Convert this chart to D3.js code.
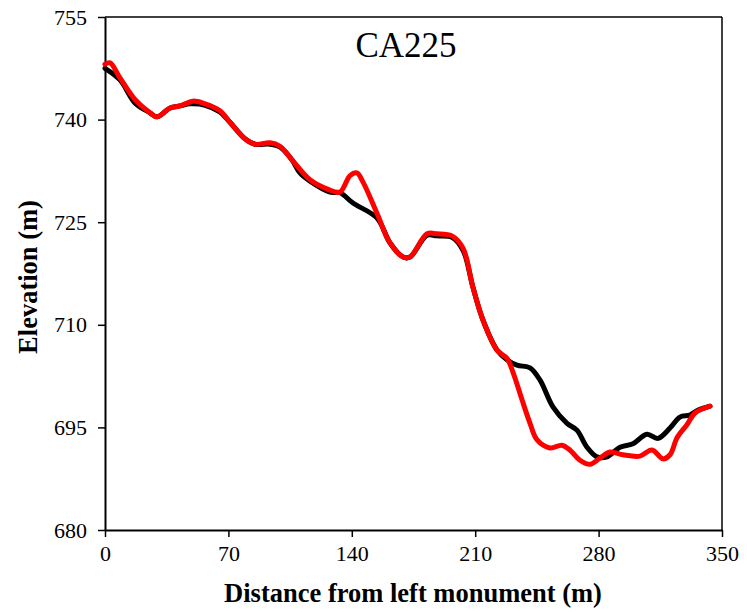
<!DOCTYPE html>
<html>
<head>
<meta charset="utf-8">
<script src="https://cdn.jsdelivr.net/npm/d3@7"></script>
<style>
  body { margin: 0; background: #fff; }
  svg text { font-family: "Liberation Serif", "Times New Roman", serif; }
</style>
</head>
<body>
<svg id="chart" width="747" height="612"></svg>
<script>
// Cross-section CA225: two elevation surveys along the transect
const distanceA = [0, 8.5, 17.1, 25.5, 29.5, 36.9, 42.6, 48.2, 56.8, 65.2, 70.9, 79.4, 85.1, 93.6, 99.2, 106.1, 110.6, 116.3, 127.6, 133.3, 140.7, 154.3, 161.6, 169.1, 173.0, 182.7, 188.3, 196.8, 203.1, 208.7, 214.4, 222.4, 228.0, 233.7, 241.1, 246.8, 254.1, 262.1, 267.7, 273.4, 279.0, 284.8, 292.1, 299.5, 307.4, 313.7, 320.5, 326.1, 331.8, 336.3, 343.2];
const elevationA = [747.5, 745.8, 742.4, 741.0, 740.4, 741.7, 742.0, 742.3, 742.1, 741.1, 739.6, 737.2, 736.4, 736.4, 736.0, 734.1, 732.2, 731.0, 729.4, 729.3, 727.8, 725.6, 722.0, 719.9, 719.9, 723.1, 723.0, 722.8, 720.9, 715.5, 710.7, 706.3, 704.9, 704.1, 703.7, 701.9, 698.0, 695.6, 694.6, 692.1, 690.7, 690.7, 692.1, 692.6, 694.0, 693.4, 694.9, 696.5, 696.8, 697.5, 698.1];

const distanceB = [0, 2.9, 8.5, 17.1, 25.5, 29.5, 36.9, 42.6, 49.9, 56.8, 65.2, 70.9, 79.4, 85.1, 93.6, 99.2, 106.1, 116.3, 127.6, 133.3, 139.0, 142.9, 146.3, 154.3, 161.6, 169.1, 173.0, 182.7, 188.3, 196.8, 203.1, 208.7, 214.4, 222.4, 228.0, 231.5, 236.6, 241.1, 245.0, 252.4, 259.2, 263.7, 269.4, 275.1, 280.8, 286.5, 293.8, 303.4, 310.3, 316.5, 320.5, 324.5, 330.1, 334.7, 343.2];
const elevationB = [748.1, 748.3, 746.1, 742.9, 741.0, 740.4, 741.7, 742.0, 742.7, 742.3, 741.3, 739.6, 737.2, 736.4, 736.6, 736.1, 734.1, 731.2, 729.7, 729.4, 731.8, 732.2, 730.9, 726.3, 722.0, 719.9, 719.9, 723.3, 723.3, 723.0, 721.2, 715.5, 710.7, 706.3, 705.1, 703.0, 699.0, 695.6, 693.2, 692.0, 692.4, 691.7, 690.2, 689.6, 690.5, 691.4, 691.0, 690.8, 691.7, 690.4, 691.0, 693.5, 695.4, 697.1, 698.1];

const xTicks = [0, 70, 140, 210, 280, 350];
const yTicks = [680, 695, 710, 725, 740, 755];

const svg = d3.select("#chart");
const plotLeft = 105, plotRight = 722, plotTop = 17, plotBottom = 530;

const x = d3.scaleLinear().domain([0, 350]).range([plotLeft, plotRight]);
const y = d3.scaleLinear().domain([680, 755]).range([plotBottom, plotTop]);

// Frame (top and right borders)
svg.append("line").attr("x1", plotLeft).attr("x2", plotRight).attr("y1", plotTop).attr("y2", plotTop)
  .attr("stroke", "#000").attr("stroke-width", 1.5);
svg.append("line").attr("x1", plotRight).attr("x2", plotRight).attr("y1", plotTop).attr("y2", plotBottom)
  .attr("stroke", "#000").attr("stroke-width", 1.5);

// Axes
const xAxis = svg.append("g").attr("transform", `translate(0,${plotBottom})`)
  .call(d3.axisBottom(x).tickValues(xTicks).tickSizeInner(7).tickSizeOuter(0).tickPadding(8));
const yAxis = svg.append("g").attr("transform", `translate(${plotLeft},0)`)
  .call(d3.axisLeft(y).tickValues(yTicks).tickSizeInner(7).tickSizeOuter(0).tickPadding(11));

[xAxis, yAxis].forEach(g => {
  g.select(".domain").attr("stroke", "#000").attr("stroke-width", 2);
  g.selectAll(".tick line").attr("stroke", "#000").attr("stroke-width", 1.5);
  g.selectAll(".tick text").attr("font-size", 22).attr("fill", "#000")
    .style("font-family", "'Liberation Serif', serif");
});

// Profiles
const line = d3.line().x(d => x(d[0])).y(d => y(d[1])).curve(d3.curveCatmullRom.alpha(0.5));
const seriesA = distanceA.map((d, i) => [d, elevationA[i]]);
const seriesB = distanceB.map((d, i) => [d, elevationB[i]]);

svg.append("path").datum(seriesA).attr("d", line)
  .attr("fill", "none").attr("stroke", "#000").attr("stroke-width", 5)
  .attr("stroke-linejoin", "round").attr("stroke-linecap", "round");
svg.append("path").datum(seriesB).attr("d", line)
  .attr("fill", "none").attr("stroke", "#ff0000").attr("stroke-width", 5)
  .attr("stroke-linejoin", "round").attr("stroke-linecap", "round");

// Titles
svg.append("text").attr("x", 406).attr("y", 57).attr("text-anchor", "middle")
  .attr("font-size", 35).text("CA225");
svg.append("text").attr("x", 413).attr("y", 602).attr("text-anchor", "middle")
  .attr("font-size", 26.5).attr("font-weight", "bold").text("Distance from left monument  (m)");
svg.append("text").attr("transform", "translate(37,277) rotate(-90)").attr("text-anchor", "middle")
  .attr("font-size", 26.5).attr("font-weight", "bold").text("Elevation (m)");
</script>
</body>
</html>
